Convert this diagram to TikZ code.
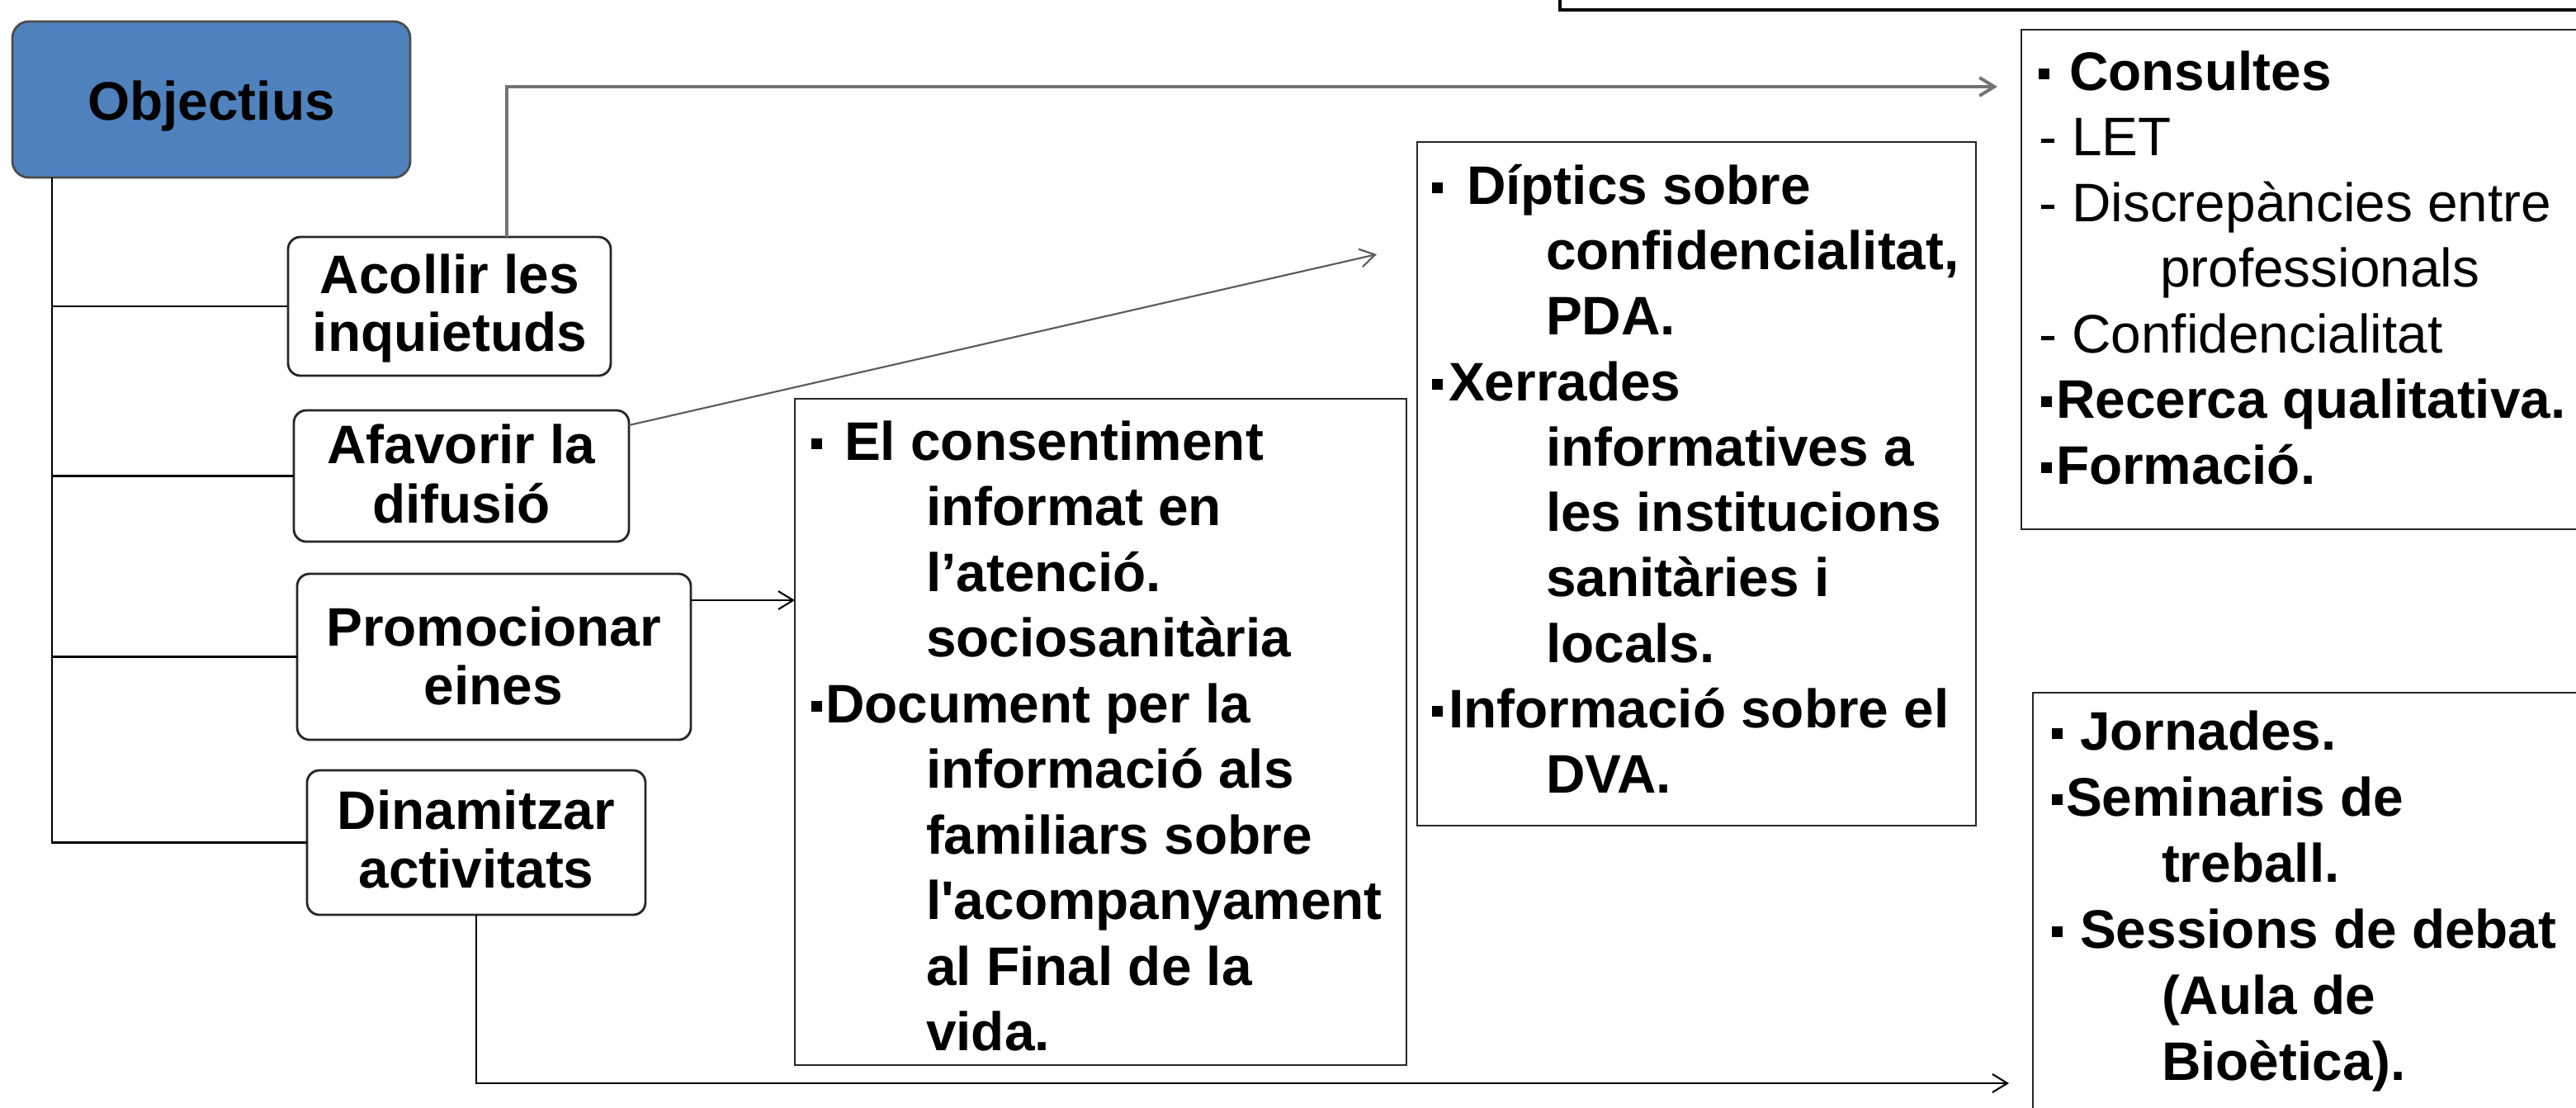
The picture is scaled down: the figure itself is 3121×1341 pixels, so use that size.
\documentclass[tikz,border=0pt]{standalone}
\usepackage{fontspec}
\setmainfont{Liberation Sans}
\usetikzlibrary{arrows.meta,calc,fit}
\definecolor{objblue}{RGB}{79,129,189}
\newcommand\sq{\rule[0.2em]{0.19em}{0.2em}}
\newcommand\bl[1]{\makebox[#1][l]{\sq}}
\tikzset{
  tb/.style={font=\fontsize{18.7pt}{22pt}\selectfont\bfseries, anchor=base west, inner sep=0pt, outer sep=0pt},
  tr/.style={font=\fontsize{18.7pt}{22pt}\selectfont, anchor=base west, inner sep=0pt, outer sep=0pt},
  tc/.style={font=\fontsize{18.7pt}{22pt}\selectfont\bfseries, anchor=base, inner sep=0pt, outer sep=0pt},
  rbox/.style={draw=black!85, line width=0.8pt, rounded corners=0.15cm, fill=white, inner sep=0pt, outer sep=0pt},
  sbox/.style={draw=black!85, line width=0.7pt, inner sep=0pt, outer sep=0pt},
  conn/.style={draw=black, line width=0.6pt},
  gline/.style={draw=black!55, line width=1.1pt},
  arr/.style={-{Straight Barb[length=1.8mm,width=2.2mm]}},
}
\begin{document}
\begin{tikzpicture}[x=0.01cm,y=-0.01cm]
\useasboundingbox (0,0) rectangle (3121,1341);
\clip (0,0) rectangle (3121,1341);

% partial box at the top right
\draw[line width=1.1pt] (1890,-30) -- (1890,12) -- (3200,12);

% left column
\node[rbox, fill=objblue, draw=black!70, rounded corners=0.2cm, fit={(15,26) (497,215)}] (obj) {};
\node[tc] (objt) at (256,145) {Objectius};

\node[rbox, fit={(349,287) (740,455)}] (acollir) {};
\node[tc] (acollir1) at (545,355) {Acollir les};
\node[tc] (acollir2) at (545,425) {inquietuds};

\node[rbox, fit={(356,497) (762,656)}] (afav) {};
\node[tc] (afav1) at (559,561) {Afavorir la};
\node[tc] (afav2) at (559,633) {difusió};

\node[rbox, fit={(360,695) (837,896)}] (prom) {};
\node[tc] (prom1) at (598,782) {Promocionar};
\node[tc] (prom2) at (598,853) {eines};

\node[rbox, fit={(372,933) (782,1108)}] (dina) {};
\node[tc] (dina1) at (577,1004) {Dinamitzar};
\node[tc] (dina2) at (577,1075) {activitats};

% rectangles
\node[sbox, fit={(963,483) (1704,1290)}] (cons) {};
\node[sbox, fit={(1717,172) (2394,1000)}] (dipt) {};
\node[sbox, fit={(2449,36) (3135,641)}] (consul) {};
\node[sbox, fit={(2463,839) (3135,1370)}] (jorn) {};

% El consentiment
\node[tb] (e1) at (983,557) {\bl{0.40cm}El consentiment};
\node[tb] (e2) at (1122,636.5) {informat en};
\node[tb] (e3) at (1122,716) {l’atenció.};
\node[tb] (e4) at (1122,795.5) {sociosanitària};
\node[tb] (e5) at (983,875) {\bl{0.17cm}Document per la};
\node[tb] (e6) at (1122,954.5) {informació als};
\node[tb] (e7) at (1122,1034) {familiars sobre};
\node[tb] (e8) at (1122,1113.5) {l\textquotesingle acompanyament};
\node[tb] (e9) at (1122,1193) {al Final de la};
\node[tb] (e10) at (1122,1272.5) {vida.};

% Diptics
\node[tb] (d1) at (1735,247) {\bl{0.42cm}Díptics sobre};
\node[tb] (d2) at (1873,326) {confidencialitat,};
\node[tb] (d3) at (1873,405) {PDA.};
\node[tb] (d4) at (1735,485) {\bl{0.20cm}Xerrades};
\node[tb] (d5) at (1873,564) {informatives a};
\node[tb] (d6) at (1873,643) {les institucions};
\node[tb] (d7) at (1873,722) {sanitàries i};
\node[tb] (d8) at (1873,802) {locals.};
\node[tb] (d9) at (1735,881) {\bl{0.20cm}Informació sobre el};
\node[tb] (d10) at (1873,960) {DVA.};

% Consultes
\node[tb] (k1) at (2470,109) {\bl{0.37cm}Consultes};
\node[tr] (k2) at (2470,188.5) {- LET};
\node[tr] (k3) at (2470,268) {- Discrepàncies entre};
\node[tr] (k4) at (2617,347.5) {professionals};
\node[tr] (k5) at (2470,427) {- Confidencialitat};
\node[tb] (k6) at (2473,506.5) {\bl{0.18cm}Recerca qualitativa.};
\node[tb] (k7) at (2473,586) {\bl{0.18cm}Formació.};

% Jornades
\node[tb] (j1) at (2486,908) {\bl{0.34cm}Jornades.};
\node[tb] (j2) at (2486,988) {\bl{0.17cm}Seminaris de};
\node[tb] (j3) at (2619,1068) {treball.};
\node[tb] (j4) at (2486,1148) {\bl{0.34cm}Sessions de debat};
\node[tb] (j5) at (2619,1228) {(Aula de};
\node[tb] (j6) at (2619,1308) {Bioètica).};

% trunk and branches
\coordinate (tx) at (63,0);
\draw[conn] (obj.south -| tx) |- (dina.west);
\draw[conn] (tx |- acollir.west) -- (acollir.west);
\draw[conn] (tx |- afav.west) -- (afav.west);
\draw[conn] (tx |- prom.west) -- (prom.west);

% arrows
\coordinate (ca) at (614,105);
\coordinate (cae) at (2420,105);
\draw[gline, arr] (acollir.north -| ca) -- (ca) -- (cae);

\coordinate (fa) at (1668,308);
\draw[conn, draw=black!65, arr] ($(afav.north east)+(0,18)$) -- (fa);

\coordinate (pa) at (0,727);
\draw[conn, arr] (prom.east |- pa) -- (cons.west |- pa);

\coordinate (da) at (2434,1312);
\draw[conn, arr] (dina.south) |- (da);
\end{tikzpicture}
\end{document}
